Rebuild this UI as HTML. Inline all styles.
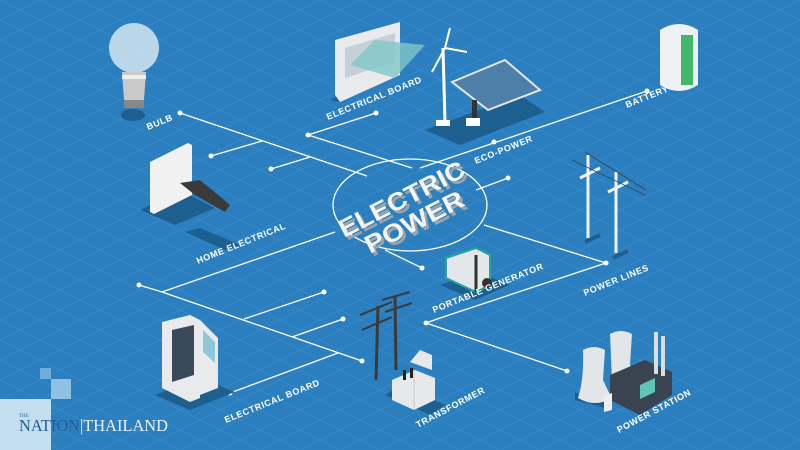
<!DOCTYPE html>
<html><head><meta charset="utf-8"><style>
html,body{margin:0;padding:0;width:800px;height:450px;overflow:hidden;background:#2b7fbe}
svg{display:block}
.l{stroke:#fff;stroke-width:1.3;fill:none}
.d{fill:#fff}
.t{font-family:"Liberation Sans",sans-serif;font-size:9px;font-weight:bold;fill:#fff;letter-spacing:.6px}
</style></head><body>
<svg width="800" height="450" viewBox="0 0 800 450">
<defs>
<pattern id="g" width="40" height="20" patternUnits="userSpaceOnUse">
<path d="M0 0L40 20M40 0L0 20" stroke="#3a8ccb" stroke-width="0.6"/>
</pattern>
</defs>
<rect width="800" height="450" fill="#2b7fbe"/>
<rect width="800" height="450" fill="url(#g)"/>

<!-- connectors -->
<g class="l">
<ellipse cx="410" cy="205" rx="77" ry="46"/>
<path d="M180 113L367 176"/>
<path d="M262 141L211 156M310 157L271 169"/>
<path d="M376 113L308 135L412 168"/>
<path d="M420 168L647 91"/>
<path d="M476 190L508 178"/>
<path d="M484 225L606 263L440 318L426 323L567 371"/>
<path d="M385 250L422 268"/>
<path d="M139 285L162 292L335 232"/>
<path d="M162 292L362 361"/>
<path d="M244 319L324 292M292 337L343 319M338 353L230 393"/>
</g>
<g class="d">
<circle cx="180" cy="113" r="2.5"/><circle cx="211" cy="156" r="2.5"/><circle cx="271" cy="169" r="2.5"/>
<circle cx="308" cy="135" r="2.5"/><circle cx="376" cy="113" r="2.5"/><circle cx="494" cy="142" r="2.5"/>
<circle cx="647" cy="91" r="2.5"/><circle cx="508" cy="178" r="2.5"/><circle cx="606" cy="263" r="2.5"/>
<circle cx="422" cy="268" r="2.5"/><circle cx="139" cy="285" r="2.5"/><circle cx="324" cy="292" r="2.5"/>
<circle cx="343" cy="319" r="2.5"/><circle cx="362" cy="361" r="2.5"/><circle cx="230" cy="393" r="2.5"/>
<circle cx="426" cy="323" r="2.5"/><circle cx="567" cy="371" r="2.5"/>
</g>

<!-- center text -->
<g font-family="Liberation Sans,sans-serif" font-weight="bold">
<g fill="#9aa3ab">
<text x="347" y="241" font-size="25" textLength="138" lengthAdjust="spacingAndGlyphs" transform="rotate(-27 347 241)">ELECTRIC</text>
<text x="373" y="257" font-size="25" textLength="108" lengthAdjust="spacingAndGlyphs" transform="rotate(-27 373 257)">POWER</text>
</g>
<g fill="#f4f4f4">
<text x="344" y="238" font-size="25" textLength="138" lengthAdjust="spacingAndGlyphs" transform="rotate(-27 344 238)">ELECTRIC</text>
<text x="370" y="254" font-size="25" textLength="108" lengthAdjust="spacingAndGlyphs" transform="rotate(-27 370 254)">POWER</text>
</g>
</g>

<!-- bulb -->
<ellipse cx="133" cy="115" rx="12" ry="6" fill="#1d5f8f"/>
<circle cx="134" cy="48" r="25" fill="#d3e6f2" opacity=".85"/>
<path d="M122 72L146 72L144 100L124 100Z" fill="#c9c9c9"/>
<rect x="122" y="75" width="24" height="4" fill="#eee"/>
<rect x="124" y="100" width="20" height="8" fill="#888"/>
<!-- socket -->
<path d="M140 210L180 190L215 208L175 225Z" fill="#1d5f8f"/>
<path d="M150 162L188 143L192 145L192 195L154 214L150 212Z" fill="#f1f1f1"/>
<path d="M180 183L200 180L230 205L225 212L195 195Z" fill="#3a3a3a"/>
<path d="M200 228L240 245L225 250L185 232Z" fill="#1d5f8f"/>
<!-- elec board top -->
<path d="M330 100L395 70L400 72L340 102Z" fill="#1d5f8f"/>
<path d="M335 95L335 40L400 22L400 75L340 102Z" fill="#e8eaec"/>
<path d="M345 48L395 33L395 62L345 78Z" fill="#c7d0d8"/>
<path d="M350 65L375 40L425 45L395 78Z" fill="#7fc7c8" opacity=".8"/>
<!-- wind + solar -->
<path d="M425 130L520 95L545 112L460 145Z" fill="#1d5f8f"/>
<path d="M443 48L445 123" stroke="#fff" stroke-width="3"/>
<path d="M445 48L432 72M445 48L450 28M445 48L467 52" stroke="#fff" stroke-width="2"/>
<rect x="436" y="120" width="14" height="6" fill="#fff"/>
<path d="M452 82L505 60L540 90L488 110Z" fill="#4d7fa8" stroke="#e6e6e6" stroke-width="2"/>
<rect x="472" y="100" width="5" height="25" fill="#333"/>
<rect x="466" y="118" width="14" height="8" fill="#fff"/>
<!-- battery -->
<path d="M660 30Q679 18 698 30L698 85Q679 97 660 85Z" fill="#eef2f4"/>
<rect x="681" y="35" width="12" height="50" fill="#43b86a"/>
<!-- power lines -->
<path d="M585 242L600 235M613 258L628 251" stroke="#1d5f8f" stroke-width="4"/>
<path d="M588 155L588 238M616 172L616 253" stroke="#f2f2f2" stroke-width="3"/>
<path d="M580 178L600 168M608 192L628 182" stroke="#f2f2f2" stroke-width="3"/>
<path d="M572 160L645 195M585 152L646 190" stroke="#345" stroke-width="0.8"/>
<!-- generator -->
<path d="M440 285L475 300L510 285L478 272Z" fill="#1d5f8f"/>
<path d="M446 258L476 248L490 255L490 285L476 292L446 278Z" fill="#e4e7ea" stroke="#26a69a" stroke-width="2"/>
<path d="M476 255L476 292" stroke="#333" stroke-width="3"/>
<circle cx="487" cy="283" r="5" fill="#333"/>
<!-- elec cabinet bottom -->
<path d="M155 395L190 410L235 392L200 378Z" fill="#1d5f8f"/>
<path d="M162 322L190 315L200 320L200 398L190 402L162 388Z" fill="#e8eaec"/>
<path d="M172 330L194 325L194 375L172 382Z" fill="#3b4a5a"/>
<path d="M200 320L218 338L218 388L200 395Z" fill="#e8eaec"/>
<path d="M203 330L215 342L215 363L203 352Z" fill="#8fc7d8"/>
<!-- transformer -->
<path d="M378 306L376 380M395 297L396 370" stroke="#3a3a3a" stroke-width="3"/>
<path d="M360 315L392 302M362 330L392 317M382 300L410 292M385 312L412 303" stroke="#3a3a3a" stroke-width="2"/>
<path d="M385 395L430 415L445 405L400 385Z" fill="#1d5f8f"/>
<path d="M392 380L415 370L435 378L435 400L414 410L392 400Z" fill="#e6e8ea"/>
<path d="M414 370L414 410" stroke="#ccc"/>
<path d="M410 362L420 350L432 355L432 370" fill="#e6e8ea"/>
<rect x="403" y="370" width="3" height="10" fill="#222"/><rect x="410" y="368" width="3" height="10" fill="#222"/>
<!-- power station -->
<path d="M575 392Q590 402 605 392L612 410L650 420L575 400Z" fill="#1d5f8f"/>
<path d="M583 350Q594 344 605 350L603 380Q610 395 612 398Q595 408 578 398Q584 380 583 350Z" fill="#e3e6e9"/>
<path d="M610 334Q621 328 632 334L630 365Q636 378 638 385L612 392Q612 375 610 334Z" fill="#e3e6e9"/>
<path d="M610 375L645 360L672 372L672 395L640 415L610 400Z" fill="#3a4450"/>
<path d="M640 385L655 378L655 392L640 399Z" fill="#5ec4b5"/>
<rect x="654" y="332" width="4" height="42" fill="#ddd"/><rect x="661" y="336" width="4" height="40" fill="#ddd"/>
<path d="M604 396L612 393L612 410L604 412Z" fill="#eee"/>

<!-- labels -->
<g class="t">
<text x="148" y="130" transform="rotate(-22 148 130)">BULB</text>
<text x="328" y="120" transform="rotate(-22 328 120)">ELECTRICAL BOARD</text>
<text x="476" y="164" transform="rotate(-22 476 164)">ECO-POWER</text>
<text x="627" y="108" transform="rotate(-22 627 108)">BATTERY</text>
<text x="198" y="264" transform="rotate(-22 198 264)">HOME ELECTRICAL</text>
<text x="434" y="313" transform="rotate(-22 434 313)">PORTABLE GENERATOR</text>
<text x="585" y="296" transform="rotate(-22 585 296)">POWER LINES</text>
<text x="226" y="423" transform="rotate(-22 226 423)">ELECTRICAL BOARD</text>
<text x="418" y="428" transform="rotate(-28 418 428)">TRANSFORMER</text>
<text x="619" y="433" transform="rotate(-28 619 433)">POWER STATION</text>
</g>

<!-- logo -->
<rect x="40" y="368" width="11" height="11" fill="#6faedc"/>
<rect x="51" y="379" width="20" height="20" fill="#8fc1e4"/>
<rect x="0" y="399" width="51" height="51" fill="#c4ddef"/>
<text x="19" y="417" font-family="Liberation Serif,serif" font-size="5" fill="#1f5f95">THE</text>
<text x="19" y="431" font-family="Liberation Serif,serif" font-size="17" fill="#1f5f95" textLength="61" lengthAdjust="spacingAndGlyphs">NATION</text>
<text x="80" y="431" font-family="Liberation Serif,serif" font-size="17" fill="#eaf3fa" textLength="88" lengthAdjust="spacingAndGlyphs">|THAILAND</text>
</svg>
</body></html>
